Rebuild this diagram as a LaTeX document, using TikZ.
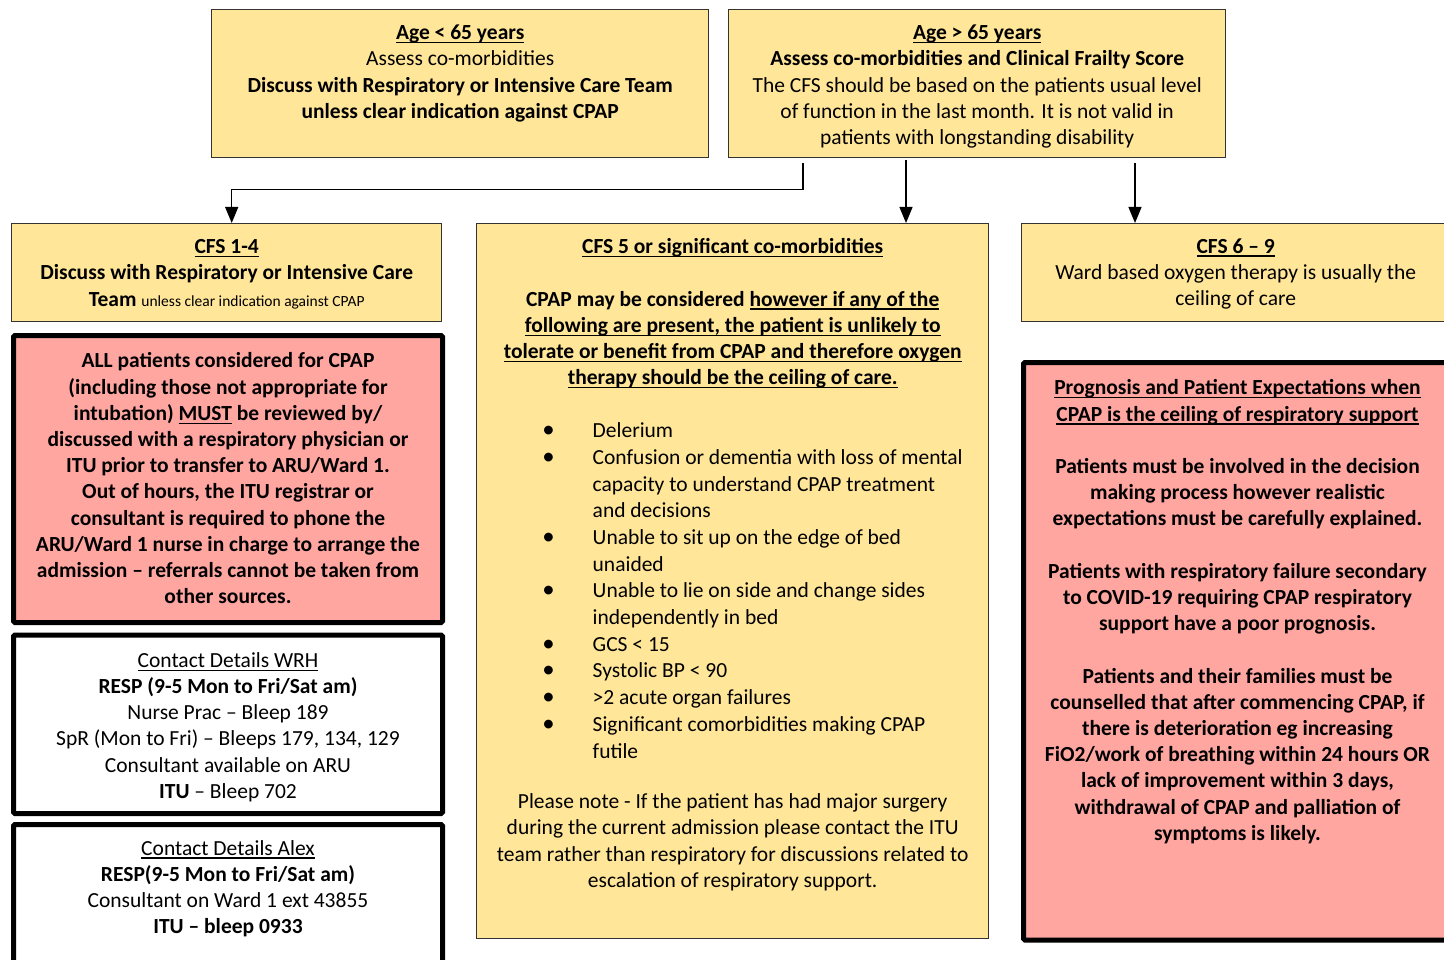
\documentclass[tikz,border=0pt]{standalone}
\usepackage{fontspec}
\setmainfont{Carlito}
\usetikzlibrary{arrows.meta}
\definecolor{cfsyellow}{HTML}{FFE699}
\definecolor{cfsred}{HTML}{FFA6A1}
\newcommand{\undl}[1]{\leavevmode\setbox0=\hbox{#1}\rlap{\rule[-3.6pt]{\wd0}{1.3pt}}\box0\relax}
\newcommand{\bul}{\leavevmode\llap{\scalebox{1.15}{\textbullet}\hspace{38pt}}}
\newcommand{\boxtext}[4]{\begin{minipage}[t][#2][t]{#1}\centering\parskip=0pt\vspace*{#3}\strut #4\end{minipage}}
\begin{document}
\begin{tikzpicture}[x=1pt,y=-1pt]
\tikzstyle{every node}+=[inner sep=0pt, anchor=north west, font=\fontsize{21.5}{26.2}\selectfont]
\tikzstyle{yel}=[draw=black!80, fill=cfsyellow, line width=1.4pt]
\tikzstyle{pink}=[draw=black, fill=cfsred, line width=5pt, rounded corners=1.5pt]
\tikzstyle{contact}=[draw=black, fill=white, line width=5pt, rounded corners=1.5pt]
\tikzstyle{arr}=[black, line width=1.3pt, -{Triangle[width=13pt,length=16pt]}]
\useasboundingbox (0,0) rectangle (1444,960);
\node[yel] (age1) at (211,9) {\boxtext{497pt}{148pt}{11.7pt}{\textbf{\undl{Age < 65 years}}\\
Assess co-morbidities\\
\textbf{Discuss with Respiratory or Intensive Care Team}\\
\textbf{unless clear indication against CPAP}}};
\node[yel] (age2) at (728,9) {\boxtext{497pt}{148pt}{11.7pt}{\textbf{\undl{Age > 65 years}}\\
\textbf{Assess co-morbidities and Clinical Frailty Score}\\
The CFS should be based on the patients usual level\\
of function in the last month. It is not valid in\\
patients with longstanding disability}};
\node[yel] (cfs1) at (11,223) {\boxtext{430pt}{98pt}{11.7pt}{\textbf{\undl{CFS 1-4}}\\
\textbf{Discuss with Respiratory or Intensive Care}\\
\textbf{Team} {\fontsize{15.5}{26.2}\selectfont unless clear indication against CPAP}}};
\node[yel] (cfs5) at (476,223) {\begin{minipage}[t][715pt][t]{512pt}\centering\parskip=0pt
\vspace*{11.7pt}\strut\textbf{\undl{CFS 5 or significant co-morbidities}}\par
\vspace{26.2pt}
{\bfseries CPAP may be considered \undl{however if any of the}\\
\undl{following are present, the patient is unlikely to}\\
\undl{tolerate or benefit from CPAP and therefore oxygen}\\
\undl{therapy should be the ceiling of care.}\par}
\vspace{26.2pt}
{\raggedright\leftskip=116pt\baselineskip=26.7pt
\bul Delerium\par
\bul Confusion or dementia with loss of mental\\
capacity to understand CPAP treatment\\
and decisions\par
\bul Unable to sit up on the edge of bed\\
unaided\par
\bul Unable to lie on side and change sides\\
independently in bed\par
\bul GCS < 15\par
\bul Systolic BP < 90\par
\bul >2 acute organ failures\par
\bul Significant comorbidities making CPAP\\
futile\par}
\vspace{24.5pt}
Please note - If the patient has had major surgery\\
during the current admission please contact the ITU\\
team rather than respiratory for discussions related to\\
escalation of respiratory support.\par
\end{minipage}};
\node[yel] (cfs6) at (1021,223) {\boxtext{428pt}{98pt}{11pt}{\textbf{\undl{CFS 6 – 9}}\\
Ward based oxygen therapy is usually the\\
ceiling of care}};
\node[pink] (must) at (11,333) {\boxtext{429pt}{287pt}{14pt}{\bfseries ALL patients considered for CPAP\\
(including those not appropriate for\\
intubation) \undl{MUST} be reviewed by/\\
discussed with a respiratory physician or\\
ITU prior to transfer to ARU/Ward 1.\\
Out of hours, the ITU registrar or\\
consultant is required to phone the\\
ARU/Ward 1 nurse in charge to arrange the\\
admission – referrals cannot be taken from\\
other sources.}};
\node[contact] (wrh) at (11,632.5) {\boxtext{429pt}{178.5pt}{14pt}{\undl{Contact Details WRH}\\
\textbf{RESP (9-5 Mon to Fri/Sat am)}\\
Nurse Prac – Bleep 189\\
SpR (Mon to Fri) – Bleeps 179, 134, 129\\
Consultant available on ARU\\
\textbf{ITU} – Bleep 702}};
\node[contact] (alex) at (11,822) {\boxtext{429pt}{168pt}{12.2pt}{\undl{Contact Details Alex}\\
\textbf{RESP(9-5 Mon to Fri/Sat am)}\\
Consultant on Ward 1 ext 43855\\
\textbf{ITU – bleep 0933}}};
\node[pink] (prog) at (1021,360) {\boxtext{428pt}{577.5pt}{14pt}{\bfseries \undl{Prognosis and Patient Expectations when}\\
\undl{CPAP is the ceiling of respiratory support}\\[26.2pt]
Patients must be involved in the decision\\
making process however realistic\\
expectations must be carefully explained.\\[26.2pt]
Patients with respiratory failure secondary\\
to COVID-19 requiring CPAP respiratory\\
support have a poor prognosis.\\[26.2pt]
Patients and their families must be\\
counselled that after commencing CPAP, if\\
there is deterioration eg increasing\\
FiO2/work of breathing within 24 hours OR\\
lack of improvement within 3 days,\\
withdrawal of CPAP and palliation of\\
symptoms is likely.}};
\draw[arr] ([xshift=75pt,yshift=-5pt]age2.south west) -- ++(0,26) -| ([xshift=5pt]cfs1.north);
\draw[arr] ([xshift=178pt,yshift=-2pt]age2.south west) coordinate (m2) -- (m2 |- cfs5.north);
\draw[arr] ([xshift=407pt,yshift=-5pt]age2.south west) coordinate (m3) -- (m3 |- cfs6.north);
\end{tikzpicture}
\end{document}
